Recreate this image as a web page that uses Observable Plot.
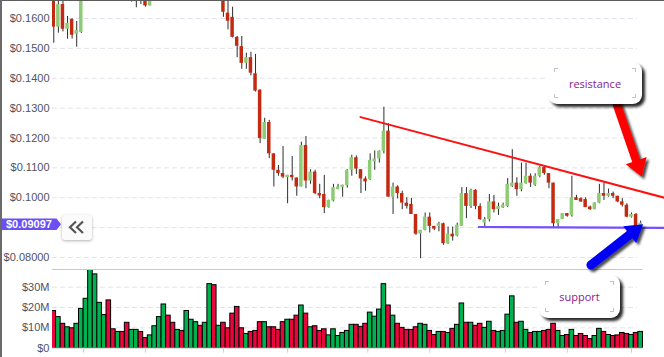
<!DOCTYPE html>
<html><head><meta charset="utf-8">
<script src="https://cdn.jsdelivr.net/npm/d3@7"></script>
<script src="https://cdn.jsdelivr.net/npm/@observablehq/plot@0.6"></script>
<style>
body{margin:0;background:#fff;}
#wrap{position:relative;width:664px;height:357px;overflow:hidden;background:#fff;font-family:"Liberation Sans",Arial,sans-serif;}
.abs{position:absolute;}
.callout{position:absolute;background:#fff;border-radius:9px;box-shadow:3px 3px 3px rgba(0,0,0,0.85);font-family:"Open Sans",sans-serif;font-size:11px;color:#8a1a8e;display:flex;align-items:center;justify-content:center;}
.cm{position:absolute;width:3px;height:3px;border-color:#c4c4c4;border-style:solid;border-width:0;}
</style></head><body>
<div id="wrap">
  <div id="price" class="abs" style="left:0;top:0"></div>
  <div id="vol" class="abs" style="left:0;top:268px"></div>
  <svg id="over" class="abs" width="664" height="357" style="left:0;top:0;overflow:visible"></svg>
  <div id="btn" class="abs" style="left:62px;top:215px;width:30px;height:25px;background:#fbfbfb;border-radius:3px;box-shadow:0 1px 3px rgba(0,0,0,0.3);">
    <svg width="30" height="25"><polyline points="14,6.5 8,12.3 14,18" fill="none" stroke="#555" stroke-width="2.2"/><polyline points="21,6.5 15,12.3 21,18" fill="none" stroke="#555" stroke-width="2.2"/></svg>
  </div>
  <div class="callout" style="left:548px;top:62px;width:94px;height:42px;">resistance
    <span class="cm" style="left:6px;top:6px;border-left-width:1px;border-top-width:1px"></span>
    <span class="cm" style="right:6px;top:6px;border-right-width:1px;border-top-width:1px"></span>
    <span class="cm" style="left:6px;bottom:6px;border-left-width:1px;border-bottom-width:1px"></span>
    <span class="cm" style="right:6px;bottom:6px;border-right-width:1px;border-bottom-width:1px"></span>
  </div>
  <div class="callout" style="left:539px;top:275px;width:81px;height:43px;">support
    <span class="cm" style="left:6px;top:6px;border-left-width:1px;border-top-width:1px"></span>
    <span class="cm" style="right:6px;top:6px;border-right-width:1px;border-top-width:1px"></span>
    <span class="cm" style="left:6px;bottom:6px;border-left-width:1px;border-bottom-width:1px"></span>
    <span class="cm" style="right:6px;bottom:6px;border-right-width:1px;border-bottom-width:1px"></span>
  </div>
  <div class="abs" style="left:0;top:0;width:664px;height:1px;background:#5c5c5c"></div>
  <div class="abs" style="left:0;top:0;width:2px;height:357px;background:#6a6a6a"></div>
</div>
<script>
// ---- data ----
const opens = [0.1690,0.1571,0.1647,0.1564,0.1597,0.1547,0.1553,0.1720,0.1800,0.1950,0.2050,0.2100,0.2140,0.2000,0.1940,0.1980,0.1900,0.1760,0.1800,0.1840,0.1760,0.1642,0.1720,0.1780,0.1860,0.1960,0.1900,0.1850,0.1880,0.1840,0.1920,0.1970,0.2000,0.1950,0.1990,0.2100,0.1850,0.1880,0.1618,0.1604,0.1537,0.1506,0.1450,0.1469,0.1415,0.1360,0.1196,0.1252,0.1147,0.1092,0.1081,0.1067,0.1075,0.1066,0.1036,0.1175,0.1056,0.1086,0.1014,0.1011,0.0967,0.0989,0.1027,0.1034,0.1041,0.1092,0.1134,0.1094,0.1063,0.1060,0.1120,0.1130,0.1156,0.1223,0.1002,0.1036,0.1014,0.0982,0.0978,0.0944,0.0878,0.0891,0.0935,0.0904,0.0904,0.0913,0.0846,0.0878,0.0872,0.0904,0.1014,0.0971,0.1025,0.0971,0.0915,0.0927,0.0986,0.0960,0.0966,0.0971,0.1038,0.1049,0.1027,0.1047,0.1072,0.1042,0.1072,0.1101,0.1081,0.1049,0.0913,0.0927,0.0947,0.0940,0.1000,0.0997,0.0994,0.0969,0.0960,0.0982,0.1014,0.1005,0.1014,0.1005,0.0986,0.0975,0.0935,0.0944,0.0900];
const highs = [0.1720,0.1700,0.1680,0.1607,0.1599,0.1590,0.1740,0.1830,0.1980,0.2080,0.2130,0.2170,0.2160,0.2030,0.2000,0.1990,0.1920,0.1830,0.1860,0.1860,0.1780,0.1740,0.1800,0.1880,0.1980,0.1980,0.1920,0.1900,0.1900,0.1940,0.1990,0.2020,0.2010,0.2010,0.2120,0.2110,0.1900,0.1900,0.1680,0.1638,0.1540,0.1540,0.1484,0.1487,0.1480,0.1362,0.1266,0.1259,0.1147,0.1108,0.1172,0.1075,0.1138,0.1066,0.1186,0.1205,0.1094,0.1092,0.1045,0.1075,0.0992,0.1045,0.1045,0.1042,0.1094,0.1142,0.1140,0.1094,0.1070,0.1147,0.1157,0.1157,0.1303,0.1248,0.1049,0.1040,0.1022,0.1000,0.0998,0.0944,0.0891,0.0949,0.0949,0.0904,0.0918,0.0915,0.0902,0.0902,0.0915,0.1034,0.1034,0.1029,0.1027,0.0980,0.0934,0.1011,0.1008,0.0982,0.0982,0.1064,0.1161,0.1067,0.1116,0.1116,0.1080,0.1080,0.1105,0.1105,0.1081,0.1049,0.0927,0.0947,0.0947,0.1072,0.1008,0.1000,0.1000,0.0972,0.0983,0.1045,0.1049,0.1029,0.1019,0.1005,0.0997,0.0980,0.0949,0.0947,0.0922];
const lows = [0.1517,0.1551,0.1555,0.1531,0.1531,0.1504,0.1550,0.1700,0.1780,0.1900,0.2010,0.2060,0.1980,0.1920,0.1910,0.1880,0.1720,0.1655,0.1636,0.1647,0.1638,0.1642,0.1700,0.1760,0.1840,0.1880,0.1830,0.1820,0.1820,0.1820,0.1900,0.1950,0.1930,0.1930,0.1970,0.1830,0.1800,0.1604,0.1562,0.1535,0.1469,0.1430,0.1430,0.1408,0.1354,0.1181,0.1196,0.1131,0.1036,0.1072,0.1064,0.0980,0.1056,0.1005,0.1036,0.1030,0.1045,0.1010,0.0997,0.0947,0.0965,0.0986,0.1027,0.1002,0.1032,0.1072,0.1078,0.1014,0.1022,0.1058,0.1092,0.1116,0.1147,0.1002,0.0944,0.0996,0.0960,0.0962,0.0944,0.0874,0.0796,0.0889,0.0882,0.0890,0.0886,0.0841,0.0844,0.0855,0.0869,0.0904,0.0930,0.0964,0.0960,0.0924,0.0900,0.0919,0.0949,0.0941,0.0964,0.0967,0.1034,0.1005,0.1020,0.1045,0.1034,0.1038,0.1067,0.1075,0.1030,0.0900,0.0900,0.0927,0.0935,0.0935,0.0991,0.0984,0.0967,0.0958,0.0960,0.0980,0.0991,0.1002,0.0997,0.0983,0.0969,0.0933,0.0932,0.0885,0.0897];
const closes = [0.1571,0.1647,0.1564,0.1584,0.1544,0.1560,0.1720,0.1800,0.1950,0.2050,0.2100,0.2140,0.2000,0.1940,0.1980,0.1900,0.1800,0.1800,0.1840,0.1760,0.1642,0.1720,0.1780,0.1860,0.1960,0.1900,0.1850,0.1880,0.1840,0.1920,0.1970,0.2000,0.1950,0.1990,0.2100,0.1850,0.1880,0.1621,0.1591,0.1537,0.1507,0.1450,0.1469,0.1417,0.1357,0.1198,0.1252,0.1147,0.1092,0.1081,0.1069,0.1075,0.1067,0.1036,0.1175,0.1056,0.1086,0.1014,0.1006,0.0967,0.0991,0.1034,0.1036,0.1042,0.1092,0.1134,0.1096,0.1063,0.1053,0.1125,0.1130,0.1156,0.1223,0.1002,0.1036,0.1014,0.0982,0.0971,0.0944,0.0878,0.0891,0.0935,0.0904,0.0895,0.0913,0.0846,0.0878,0.0869,0.0908,0.1014,0.0971,0.1025,0.0971,0.0927,0.0927,0.0986,0.0960,0.0971,0.0975,0.1045,0.1049,0.1027,0.1049,0.1072,0.1049,0.1072,0.1101,0.1081,0.1049,0.0913,0.0927,0.0947,0.0938,0.1000,0.0991,0.0986,0.0967,0.0960,0.0982,0.1014,0.1005,0.1014,0.1005,0.0986,0.0975,0.0935,0.0944,0.0902,0.0915];
const volumesM = [18.3,15.3,12,10.3,9.8,12,19.3,24.3,39,36.3,22.3,16.3,23.5,9.3,8,8,12.5,9,9,8,5,6.3,10.8,15.3,21.5,16,12.5,9,8.5,18.3,14,12.8,11,12.5,31.5,31,11,12.5,9.8,17,20.3,9.8,7,8,8.5,12.8,12.8,10.3,10.3,9,12.8,14,14,16,21,17,10.3,10.8,8.5,9.3,6.3,9.3,6,7.5,8.5,11.5,11.5,10.5,12,17.5,15.5,19,31.5,21,16,12,10,9,9,10.3,12,11.5,8.5,6.5,8,8,7.5,9.5,11.5,22,12.5,12.5,11,12,10,13,8.5,8,8.5,16.5,25.5,12.5,13,9,7.5,8,8,8.5,9,12,8.5,6,6.5,9,6,7,6,4.5,6,9.5,8,6.5,6,6.3,7.5,7,6.5,7.5,8];

const priceGrid = [0.08,0.09,0.10,0.11,0.12,0.13,0.14,0.15,0.16];
const priceTickValues = [0.08,0.10,0.11,0.12,0.13,0.14,0.15,0.16];
const priceTickLabels = ["$0.08000","$0.1000","$0.1100","$0.1200","$0.1300","$0.1400","$0.1500","$0.1600"];
const volTickValues = [0,10,20,30];
const volTickLabels = ["$0","$10M","$20M","$30M"];
const xTickPositions = [6.5,20,37,51,68.5,82,98.5,112,126];

const resistanceIdx = [66.9,133.2], resistanceVal = [0.1270,0.1000];
const supportIdx = [92.7,133.2], supportVal = [0.0902,0.0899];
const redArrowIdx = [122.9,128.35], redArrowVal = [0.1312,0.1069];
const blueArrowIdx = [117.25,128.65], blueArrowVal = [0.0773,0.0910];
const lastPrice = 0.09097, lastPriceLabel = "$0.09097";

// ---- build ----
const candles = opens.map((o,i)=>({i,o,h:highs[i],l:lows[i],c:closes[i],v:volumesM[i],up:closes[i]>=o}));
const xDom = [-0.28,133.2], gridEnd = 127.3, volEnd = 128.5;
const labelFill = "#52525f";
const gridStroke = "#e2e2ea";

const price = Plot.plot({
  width:664, height:269, marginLeft:52, marginRight:0, marginTop:0, marginBottom:0,
  style:{background:"transparent", overflow:"visible", fontFamily:"'Liberation Sans',Arial,sans-serif"},
  x:{type:"linear", domain:xDom, axis:null},
  y:{domain:[0.07598,0.16603], axis:null},
  color:{type:"identity"},
  marks:[
    Plot.ruleY(priceGrid,{y:d=>d, x1:xDom[0], x2:gridEnd, stroke:gridStroke, strokeWidth:1, strokeDasharray:"5,3"}),
    Plot.text(priceTickValues,{y:d=>d, x:xDom[0], text:(d,i)=>priceTickLabels[i], textAnchor:"end", dx:-3, fill:labelFill, fontSize:11}),
    Plot.ruleX(candles,{x:"i", y1:"l", y2:"h", stroke:"#2d2d2d", strokeWidth:1, clip:true}),
    Plot.rect(candles,{x1:d=>d.i-0.38, x2:d=>d.i+0.38, y1:"o", y2:"c", fill:d=>d.up?"#8ecb76":"#c22b12", clip:true}),
    Plot.line(resistanceIdx.map((x,k)=>({x,y:resistanceVal[k]})),{x:"x", y:"y", stroke:"#ff1010", strokeWidth:2, clip:true}),
    Plot.line(supportIdx.map((x,k)=>({x,y:supportVal[k]})),{x:"x", y:"y", stroke:"#7450ff", strokeWidth:2.2, clip:true})
  ]
});
document.getElementById("price").appendChild(price);

const vol = Plot.plot({
  width:664, height:89, marginLeft:52, marginRight:0, marginTop:1, marginBottom:9.3,
  style:{background:"transparent", overflow:"visible", fontFamily:"'Liberation Sans',Arial,sans-serif"},
  x:{type:"linear", domain:xDom},
  y:{domain:[0,38.7], axis:null},
  color:{type:"identity"},
  marks:[
    Plot.ruleY([10,20,30],{y:d=>d, x1:xDom[0], x2:gridEnd, stroke:gridStroke, strokeWidth:1, strokeDasharray:"5,3"}),
    Plot.text(volTickValues,{y:d=>d, x:xDom[0], text:(d,i)=>volTickLabels[i], textAnchor:"end", dx:-3, fill:labelFill, fontSize:11}),
    Plot.rectY(candles,{x1:d=>d.i-0.5, x2:d=>d.i+0.5, y:"v", fill:d=>d.up?"#00b14f":"#e8063c", stroke:"#000", strokeWidth:1, clip:true}),
    Plot.ruleY([0],{x1:xDom[0], x2:volEnd, stroke:"#d2d2d2"}),
    Plot.ruleY([38.7],{x1:xDom[0], x2:volEnd, stroke:"#c8c8c8"}),
    Plot.axisX(xTickPositions,{tickSize:5, tickFormat:()=>"", stroke:"#cfcfcf", tickPadding:0})
  ]
});
document.getElementById("vol").appendChild(vol);

// ---- overlay annotations (positioned through the price scales) ----
const xs = price.scale("x"), ys = price.scale("y");
const over = d3.select("#over");
const defs = over.append("defs");
const f = defs.append("filter").attr("id","sh").attr("x","-50%").attr("y","-50%").attr("width","200%").attr("height","200%");
f.append("feDropShadow").attr("dx",2.5).attr("dy",2.5).attr("stdDeviation",1.3).attr("flood-color","#000").attr("flood-opacity",0.7);

function arrowPath(t,h,hw,hh,hl){
  const dx=h[0]-t[0], dy=h[1]-t[1], L=Math.hypot(dx,dy);
  const ux=dx/L, uy=dy/L, nx=-uy, ny=ux;
  const bx=h[0]-ux*hl, by=h[1]-uy*hl;
  const P=(x,y)=>x.toFixed(2)+","+y.toFixed(2);
  return "M"+P(t[0]+nx*hw,t[1]+ny*hw)+" L"+P(bx+nx*hw,by+ny*hw)+" L"+P(bx+nx*hh,by+ny*hh)+" L"+P(h[0],h[1])+
    " L"+P(bx-nx*hh,by-ny*hh)+" L"+P(bx-nx*hw,by-ny*hw)+" L"+P(t[0]-nx*hw,t[1]-ny*hw)+
    " A"+hw+","+hw+" 0 0 0 "+P(t[0]+nx*hw,t[1]+ny*hw)+" Z";
}
const pt = (I,V,k)=>[xs.apply(I[k]), ys.apply(V[k])];
over.append("path").attr("d",arrowPath(pt(redArrowIdx,redArrowVal,0),pt(redArrowIdx,redArrowVal,1),4.2,11,17))
  .attr("fill","#ff0000").attr("filter","url(#sh)");
over.append("path").attr("d",arrowPath(pt(blueArrowIdx,blueArrowVal,0),pt(blueArrowIdx,blueArrowVal,1),4.5,10.5,17))
  .attr("fill","#0000f2").attr("filter","url(#sh)");

// last price badge
const yc = ys.apply(lastPrice);
over.append("path").attr("d",`M0,${yc-5.8} L56.5,${yc-5.8} L61,${yc} L56.5,${yc+5.8} L0,${yc+5.8} Z`).attr("fill","#6b4ef6");
over.append("text").attr("x",6).attr("y",yc+4).attr("fill","#fff").attr("font-weight","bold")
  .attr("font-size",11).attr("font-family","'Liberation Sans',Arial,sans-serif").text(lastPriceLabel);
</script>
</body></html>
